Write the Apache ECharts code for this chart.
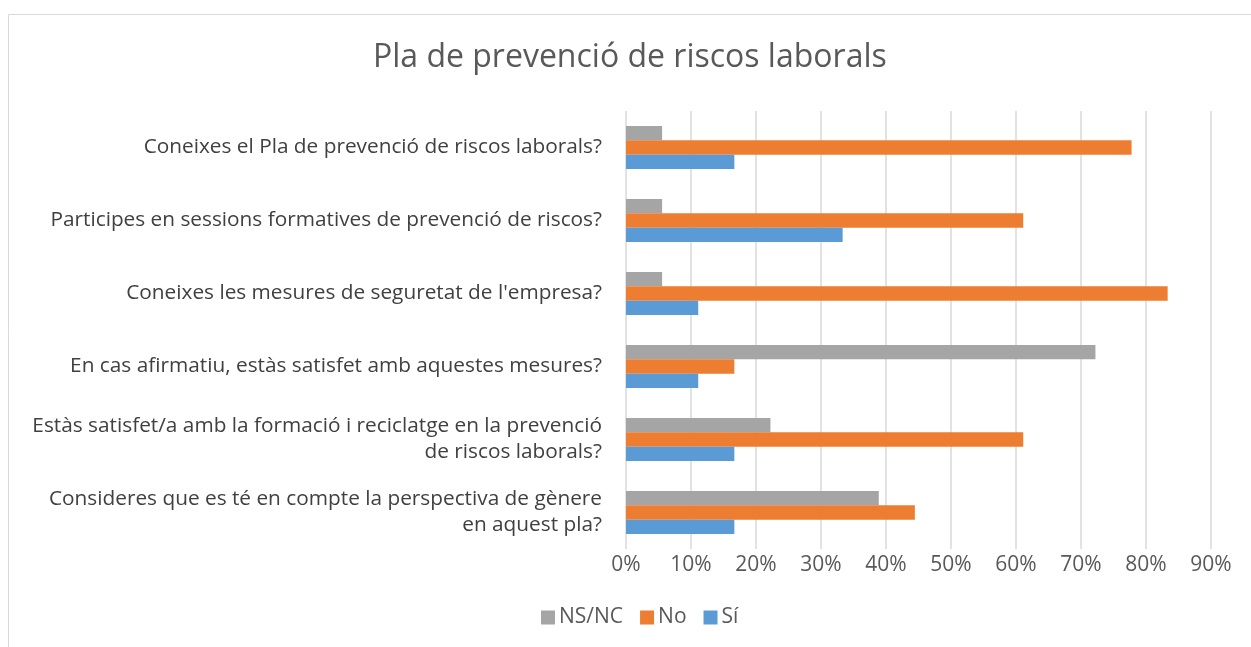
<!DOCTYPE html>
<html>
<head>
<meta charset="utf-8">
<script src="https://cdn.jsdelivr.net/npm/echarts@6/dist/echarts.min.js"></script>
<style>
  html, body { margin: 0; padding: 0; background: #fff; }
  #chart { width: 1251px; height: 647px; }
</style>
</head>
<body>
<div id="chart"></div>
<script>
const categories = [
  "Coneixes el Pla de prevenció de riscos laborals?",
  "Participes en sessions formatives de prevenció de riscos?",
  "Coneixes les mesures de seguretat de l'empresa?",
  "En cas afirmatiu, estàs satisfet amb aquestes mesures?",
  "Estàs satisfet/a amb la formació i reciclatge en la prevenció\nde riscos laborals?",
  "Consideres que es té en compte la perspectiva de gènere\nen aquest pla?"
];
// percentages
const nsnc = [5.56, 5.56, 5.56, 72.22, 22.22, 38.89];
const no = [77.78, 61.11, 83.33, 16.67, 61.11, 44.44];
const si = [16.67, 33.33, 11.11, 11.11, 16.67, 16.67];
const xTicks = [0, 10, 20, 30, 40, 50, 60, 70, 80, 90];

const font = "'Open Sans', sans-serif";
const chart = echarts.init(document.getElementById("chart"));

const option = {
  animation: false,
  textStyle: { fontFamily: font },
  title: {
    text: "Pla de prevenció de riscos laborals",
    left: 373,
    top: 42,
    padding: 0,
    textStyle: { fontSize: 32, fontWeight: "normal", color: "#595959", fontFamily: font }
  },
  graphic: [{
    type: "rect",
    shape: { x: 8.5, y: 14.5, width: 1260, height: 700 },
    style: { fill: "none", stroke: "#d9d9d9", lineWidth: 1 },
    silent: true
  }],
  legend: {
    data: ["NS/NC", "No", "Sí"],
    top: 607,
    left: 541,
    padding: 0,
    itemWidth: 14,
    itemHeight: 14,
    itemGap: 17,
    icon: "rect",
    textStyle: { fontSize: 21, color: "#595959", padding: [0, 0, 0, -1] }
  },
  grid: { left: 626, right: 40, top: 111, bottom: 98 },
  xAxis: {
    type: "value",
    min: 0,
    max: 90,
    interval: 10,
    axisLine: { show: false },
    axisTick: { show: false },
    splitLine: { lineStyle: { color: "#d9d9d9", width: 1.5 } },
    axisLabel: {
      formatter: (v) => (xTicks.includes(v) ? v + "%" : ""),
      fontSize: 21,
      color: "#595959",
      margin: 6
    }
  },
  yAxis: {
    type: "category",
    data: categories,
    inverse: true,
    axisLine: { show: false },
    axisTick: { show: false },
    axisLabel: {
      fontSize: 20.8,
      color: "#404040",
      margin: 24,
      align: "right",
      lineHeight: 26
    }
  },
  series: [
    { name: "NS/NC", type: "bar", data: nsnc, itemStyle: { color: "#a5a5a5" }, barGap: "0%", barCategoryGap: "41%" },
    { name: "No", type: "bar", data: no, itemStyle: { color: "#ed7d31" } },
    { name: "Sí", type: "bar", data: si, itemStyle: { color: "#5b9bd5" } }
  ]
};

chart.setOption(option);
</script>
</body>
</html>
